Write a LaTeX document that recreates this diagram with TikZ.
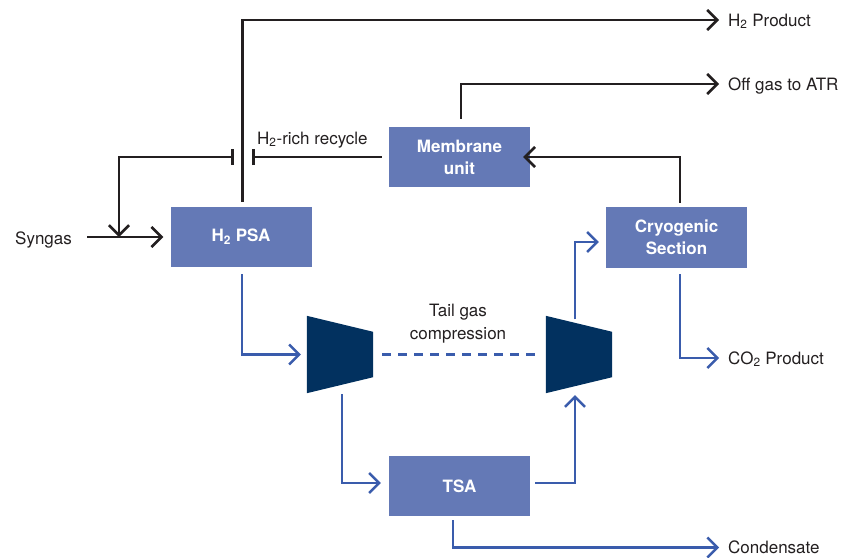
\documentclass[tikz,border=0pt]{standalone}
\usepackage{fontspec}
\setmainfont{TeX Gyre Heros}
\usetikzlibrary{arrows.meta}
\definecolor{boxc}{HTML}{6479B6}
\definecolor{compc}{HTML}{02315F}
\definecolor{bluec}{HTML}{3A5CAC}
\definecolor{blkc}{HTML}{231F20}
\definecolor{txtc}{HTML}{231F20}
\begin{document}
\begin{tikzpicture}[x=1pt,y=-1pt,
 box/.style={rectangle, fill=boxc, text=white, font=\fontsize{17}{22}\selectfont\bfseries, minimum width=141pt, minimum height=60pt, align=center, inner sep=0pt},
 comp/.style={rectangle, minimum width=66pt, minimum height=77pt, inner sep=0pt},
 lbl/.style={text=txtc, font=\fontsize{17}{22}\selectfont, inner sep=0pt, text height=12.2pt, text depth=0pt},
 mlbl/.style={text=txtc, font=\fontsize{17}{23}\selectfont, inner sep=0pt, align=center},
 blk/.style={draw=blkc, line width=2.6pt},
 blu/.style={draw=bluec, line width=2.4pt},
 flowarrow/.style={-{Straight Barb[length=10pt,width=20pt]}},
 barend/.style={-{Bar[width=16pt]}},
 barstart/.style={{Bar[width=16pt]}-{Straight Barb[length=10pt,width=20pt]}}
]
\useasboundingbox (0,0) rectangle (856,557);

% process boxes
\node[box] (psa) at (241,237) {H\textsubscript{2} PSA};
\node[box] (mem) at (459.5,157) {Membrane\\unit};
\node[box, minimum height=61pt] (cryo) at (676.5,237.5) {Cryogenic\\Section};
\node[box] (tsa) at (459.5,486) {TSA};

% compressors
\node[comp] (c1) at (340,354.5) {};
\node[comp] (c2) at (579,354.5) {};
\fill[compc] (c1.north west) -- ([yshift=-16pt]c1.north east) -- ([yshift=16pt]c1.south east) -- (c1.south west) -- cycle;
\fill[compc] (c2.north west) -- ([yshift=-16pt]c2.north east) -- ([yshift=16pt]c2.south east) -- (c2.south west) -- cycle;

% labels
\node[lbl, anchor=east] (syn) at (72,238) {Syngas};
\node[lbl, anchor=west] (h2t) at (728,20) {H\textsubscript{2} Product};
\node[lbl, anchor=west] (offt) at (728,84) {Off gas to ATR};
\node[lbl, anchor=west] (co2t) at (728,358) {CO\textsubscript{2} Product};
\node[lbl, anchor=west] (condt) at (728,547.5) {Condensate};
\node[lbl, anchor=west] (rect) at (257,138) {H\textsubscript{2}-rich recycle};
\node[mlbl] (tgc) at (458,323.5) {Tail gas\\compression};

% black connectors
\coordinate (synS) at (87,237);
\draw[blk,flowarrow] (synS) -- ([xshift=-7pt]psa.west);
\coordinate (tickR) at (252,157);
\coordinate (tickL) at (234,157);
\coordinate (join) at (119,237);
\draw[blk,barend] ([xshift=-7pt]mem.west) -- (tickR);
\draw[blk,barstart] (tickL) -| (join);
\draw[blk,flowarrow] ([shift={(1.5pt,5pt)}]psa.north) |- ([xshift=-9pt]h2t.west);
\draw[blk,flowarrow] ([shift={(1.5pt,8pt)}]mem.north) |- ([xshift=-9pt]offt.west);
\draw[blk,flowarrow] ([shift={(3.5pt,4pt)}]cryo.north) |- ([xshift=-7pt]mem.east);

% blue connectors
\draw[blu,flowarrow] ([shift={(3.5pt,-6pt)}]cryo.south) |- ([xshift=-9pt]co2t.west);
\draw[blu,flowarrow] ([shift={(1pt,-7pt)}]psa.south) |- ([xshift=-6pt]c1.west);
\draw[blu,flowarrow] ([shift={(2pt,-1pt)}]c1.south) |- ([shift={(-8pt,3pt)}]tsa.west);
\draw[blu,flowarrow] ([shift={(5pt,3pt)}]tsa.east) -| ([shift={(-4pt,-2pt)}]c2.south);
\draw[blu,flowarrow] ([shift={(-4pt,-3.5pt)}]c2.north) |- ([shift={(-7pt,-4.5pt)}]cryo.west);
\draw[blu,flowarrow] ([shift={(-6.5pt,-4pt)}]tsa.south) |- ([xshift=-9pt]condt.west);
\draw[blu,dash pattern=on 9pt off 7pt] ([xshift=9pt]c1.east) -- ([xshift=-11pt]c2.west);
\end{tikzpicture}
\end{document}
